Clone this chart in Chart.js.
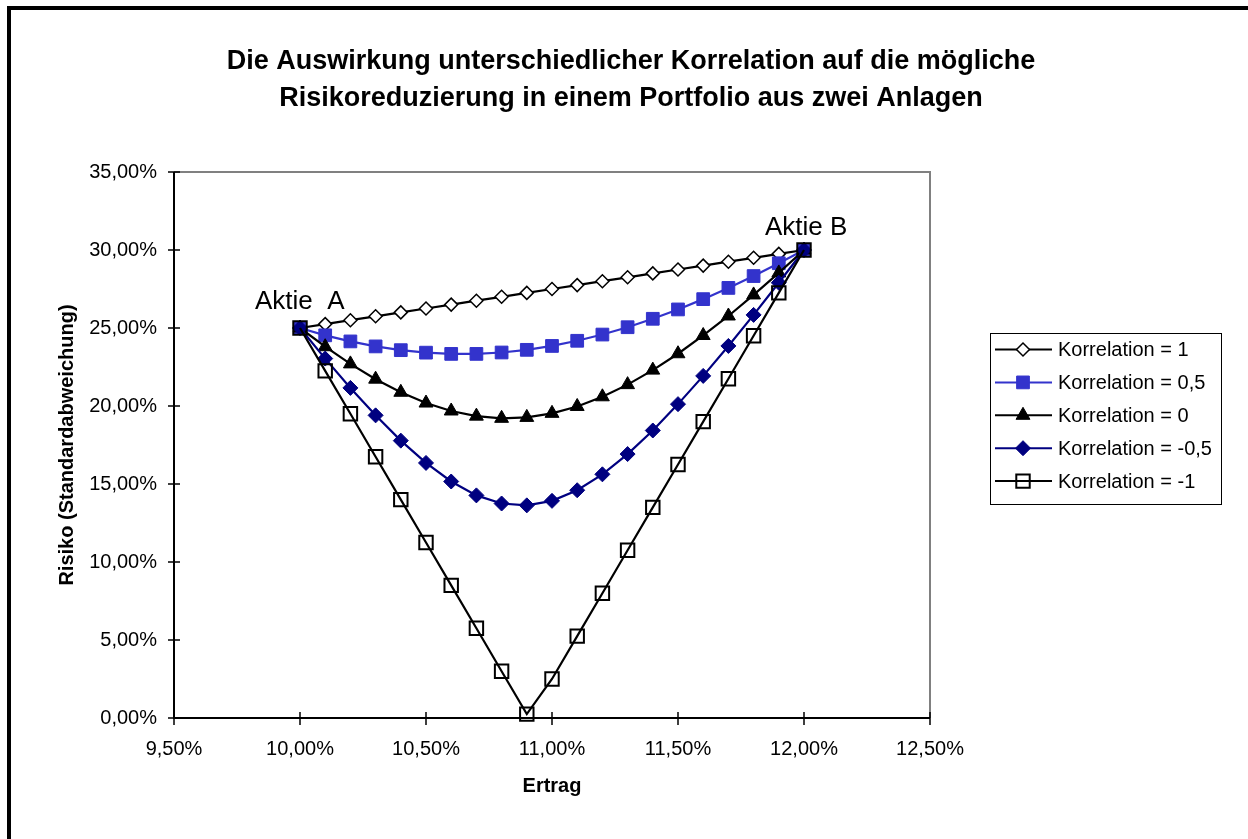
<!DOCTYPE html>
<html lang="de">
<head>
<meta charset="utf-8">
<title>Korrelation und Risikoreduzierung</title>
<script src="https://cdn.jsdelivr.net/npm/chart.js@4.4.1/dist/chart.umd.min.js"></script>
<style>
  html, body { margin: 0; padding: 0; background: #fff; }
  #wrap { position: relative; width: 1248px; height: 839px; }
</style>
</head>
<body>
<div id="wrap"><canvas id="chart" width="1248" height="839"></canvas></div>
<script>
// Ertrag des Portfolios in % (Anteil Aktie B von 0 % bis 100 % in 5-%-Schritten)
const ertrag = [10.0, 10.1, 10.2, 10.3, 10.4, 10.5, 10.6, 10.7, 10.8, 10.9, 11.0,
                11.1, 11.2, 11.3, 11.4, 11.5, 11.6, 11.7, 11.8, 11.9, 12.0];

// Risiko (Standardabweichung) in % je Korrelation
const risikoKorr1 = [25.00, 25.25, 25.50, 25.75, 26.00, 26.25, 26.50, 26.75, 27.00, 27.25, 27.50,
                     27.75, 28.00, 28.25, 28.50, 28.75, 29.00, 29.25, 29.50, 29.75, 30.00];
const risikoKorr05 = [25.00, 24.53, 24.14, 23.82, 23.58, 23.42, 23.34, 23.34, 23.43, 23.60, 23.85,
                      24.18, 24.58, 25.05, 25.59, 26.19, 26.85, 27.57, 28.33, 29.15, 30.00];
const risikoKorr0 = [25.00, 23.80, 22.70, 21.72, 20.88, 20.19, 19.68, 19.35, 19.21, 19.27, 19.53,
                     19.97, 20.59, 21.37, 22.30, 23.35, 24.52, 25.77, 27.12, 28.53, 30.00];
const risikoKorrM05 = [25.00, 23.04, 21.16, 19.40, 17.78, 16.35, 15.16, 14.27, 13.75, 13.63, 13.92,
                       14.60, 15.62, 16.92, 18.43, 20.12, 21.93, 23.85, 25.84, 27.90, 30.00];
const risikoKorrM1 = [25.00, 22.25, 19.50, 16.75, 14.00, 11.25, 8.50, 5.75, 3.00, 0.25, 2.50,
                      5.25, 8.00, 10.75, 13.50, 16.25, 19.00, 21.75, 24.50, 27.25, 30.00];

const serienNamen = ['Korrelation = 1', 'Korrelation = 0,5', 'Korrelation = 0',
                     'Korrelation = -0,5', 'Korrelation = -1'];

const xTickWerte = [9.5, 10.0, 10.5, 11.0, 11.5, 12.0, 12.5];
const yTickWerte = [0, 5, 10, 15, 20, 25, 30, 35];

const titelZeilen = ['Die Auswirkung unterschiedlicher Korrelation auf die mögliche',
                     'Risikoreduzierung in einem Portfolio aus zwei Anlagen'];
const xTitel = 'Ertrag';
const yTitel = 'Risiko (Standardabweichung)';
const aktieA = 'Aktie  A';
const aktieB = 'Aktie B';

const FONT = '"Liberation Sans", Arial, Helvetica, sans-serif';
const BLAU = '#3333CC';
const NAVY = '#000080';

const fmtProzent = v => Number(v).toFixed(2).replace('.', ',') + '%';
const punkte = werte => ertrag.map((x, i) => ({ x: x, y: werte[i] }));

// Darstellung je Reihe
const stile = [
  { pointStyle: 'rectRot', radius: 6.5, fill: '#ffffff', stroke: '#000000', bw: 1.5, line: '#000000' },
  { pointStyle: 'rect', radius: 9, fill: BLAU, stroke: BLAU, bw: 1, line: BLAU },
  { pointStyle: 'triangle', radius: 8, fill: '#000000', stroke: '#000000', bw: 1, line: '#000000' },
  { pointStyle: 'rectRot', radius: 7.5, fill: NAVY, stroke: NAVY, bw: 1, line: NAVY },
  { pointStyle: 'rect', radius: 9.5, fill: 'rgba(0,0,0,0)', stroke: '#000000', bw: 2, line: '#000000' }
];
const reihen = [risikoKorr1, risikoKorr05, risikoKorr0, risikoKorrM05, risikoKorrM1];

const datasets = reihen.map((werte, i) => ({
  label: serienNamen[i],
  data: punkte(werte),
  showLine: true,
  tension: 0,
  borderColor: stile[i].line,
  borderWidth: 2.2,
  pointStyle: stile[i].pointStyle,
  pointRadius: stile[i].radius,
  pointHoverRadius: stile[i].radius,
  pointBackgroundColor: stile[i].fill,
  pointBorderColor: stile[i].stroke,
  pointBorderWidth: stile[i].bw,
  order: reihen.length - 1 - i,
  clip: false
}));

// Rahmen, Achsen, Beschriftungen und Legende
const deko = {
  id: 'deko',
  beforeDraw(chart) {
    const ctx = chart.ctx;
    ctx.save();
    ctx.fillStyle = '#ffffff';
    ctx.fillRect(0, 0, chart.width, chart.height);
    ctx.restore();
  },
  beforeDatasetsDraw(chart) {
    const ctx = chart.ctx;
    const a = chart.chartArea;
    const xs = chart.scales.x, ys = chart.scales.y;
    ctx.save();
    // äußerer Rahmen
    ctx.strokeStyle = '#000';
    ctx.lineWidth = 4;
    ctx.beginPath();
    ctx.moveTo(9, chart.height + 10);
    ctx.lineTo(9, 8);
    ctx.lineTo(chart.width + 10, 8);
    ctx.stroke();
    // Zeichnungsfläche oben/rechts grau
    ctx.strokeStyle = '#808080';
    ctx.lineWidth = 2;
    ctx.beginPath();
    ctx.moveTo(a.left, a.top);
    ctx.lineTo(a.right, a.top);
    ctx.lineTo(a.right, a.bottom);
    ctx.stroke();
    // Achsen links/unten schwarz
    ctx.strokeStyle = '#000';
    ctx.beginPath();
    ctx.moveTo(a.left, a.top);
    ctx.lineTo(a.left, a.bottom);
    ctx.lineTo(a.right, a.bottom);
    ctx.stroke();
    // Teilstriche (kreuzend)
    ctx.lineWidth = 1.5;
    ctx.beginPath();
    yTickWerte.forEach(v => {
      const y = Math.round(ys.getPixelForValue(v));
      ctx.moveTo(a.left - 6, y);
      ctx.lineTo(a.left + 6, y);
    });
    xTickWerte.forEach(v => {
      const x = Math.round(xs.getPixelForValue(v));
      ctx.moveTo(x, a.bottom - 6);
      ctx.lineTo(x, a.bottom + 7);
    });
    ctx.stroke();
    ctx.restore();
  },
  afterDraw(chart) {
    const ctx = chart.ctx;
    const a = chart.chartArea;
    const xs = chart.scales.x, ys = chart.scales.y;
    ctx.save();
    ctx.fillStyle = '#000';
    // Titel
    ctx.font = 'bold 27px ' + FONT;
    ctx.textAlign = 'center';
    ctx.textBaseline = 'alphabetic';
    ctx.fillText(titelZeilen[0], 631, 69);
    ctx.fillText(titelZeilen[1], 631, 106);
    // Achsentitel
    ctx.font = 'bold 20px ' + FONT;
    ctx.textBaseline = 'middle';
    ctx.fillText(xTitel, (a.left + a.right) / 2, 786);
    ctx.save();
    ctx.translate(67, (a.top + a.bottom) / 2);
    ctx.rotate(-Math.PI / 2);
    ctx.fillText(yTitel, 0, 0);
    ctx.restore();
    // Punktbeschriftungen
    ctx.font = '26px ' + FONT;
    ctx.textAlign = 'left';
    ctx.textBaseline = 'alphabetic';
    ctx.fillText(aktieA, xs.getPixelForValue(ertrag[0]) - 45, ys.getPixelForValue(risikoKorr1[0]) - 19);
    const n = ertrag.length - 1;
    ctx.fillText(aktieB, xs.getPixelForValue(ertrag[n]) - 39, ys.getPixelForValue(risikoKorr1[n]) - 15);
    // Legende
    const lx = 990, ly = 333, lw = 231, lh = 171;
    ctx.strokeStyle = '#000';
    ctx.lineWidth = 1;
    ctx.strokeRect(lx + 0.5, ly + 0.5, lw, lh);
    ctx.font = '20px ' + FONT;
    ctx.textBaseline = 'middle';
    chart.data.datasets.forEach((ds, i) => {
      const y = 349.5 + i * 32.9;
      ctx.strokeStyle = ds.borderColor;
      ctx.lineWidth = 2;
      ctx.beginPath();
      ctx.moveTo(995, y);
      ctx.lineTo(1052, y);
      ctx.stroke();
      ctx.fillStyle = ds.pointBackgroundColor;
      ctx.strokeStyle = ds.pointBorderColor;
      ctx.lineWidth = ds.pointBorderWidth;
      Chart.helpers.drawPoint(ctx, { pointStyle: ds.pointStyle, rotation: 0, radius: ds.pointRadius, borderWidth: ds.pointBorderWidth }, 1023, y);
      ctx.fillStyle = '#000';
      ctx.fillText(ds.label, 1058, y + 1);
    });
    ctx.restore();
  }
};

const tickFont = { family: FONT, size: 20 };

new Chart(document.getElementById('chart'), {
  type: 'scatter',
  data: { datasets: datasets },
  options: {
    responsive: false,
    animation: false,
    devicePixelRatio: 1,
    events: [],
    layout: { padding: { left: 0, top: 172, right: 318, bottom: 0 } },
    plugins: {
      legend: { display: false },
      tooltip: { enabled: false },
      title: { display: false }
    },
    scales: {
      x: {
        type: 'linear',
        min: xTickWerte[0],
        max: xTickWerte[xTickWerte.length - 1],
        afterBuildTicks: s => { s.ticks = xTickWerte.map(v => ({ value: v })); },
        afterFit: s => { s.height = 121; },
        grid: { display: false, drawTicks: true, tickLength: 6 },
        border: { display: false },
        ticks: { font: tickFont, color: '#000', padding: 13, maxRotation: 0, autoSkip: false, callback: fmtProzent }
      },
      y: {
        type: 'linear',
        min: yTickWerte[0],
        max: yTickWerte[yTickWerte.length - 1],
        afterBuildTicks: s => { s.ticks = yTickWerte.map(v => ({ value: v })); },
        afterFit: s => { s.width = 174; },
        grid: { display: false, drawTicks: true, tickLength: 6 },
        border: { display: false },
        ticks: { font: tickFont, color: '#000', padding: 11, autoSkip: false, callback: fmtProzent }
      }
    }
  },
  plugins: [deko]
});
</script>
</body>
</html>
